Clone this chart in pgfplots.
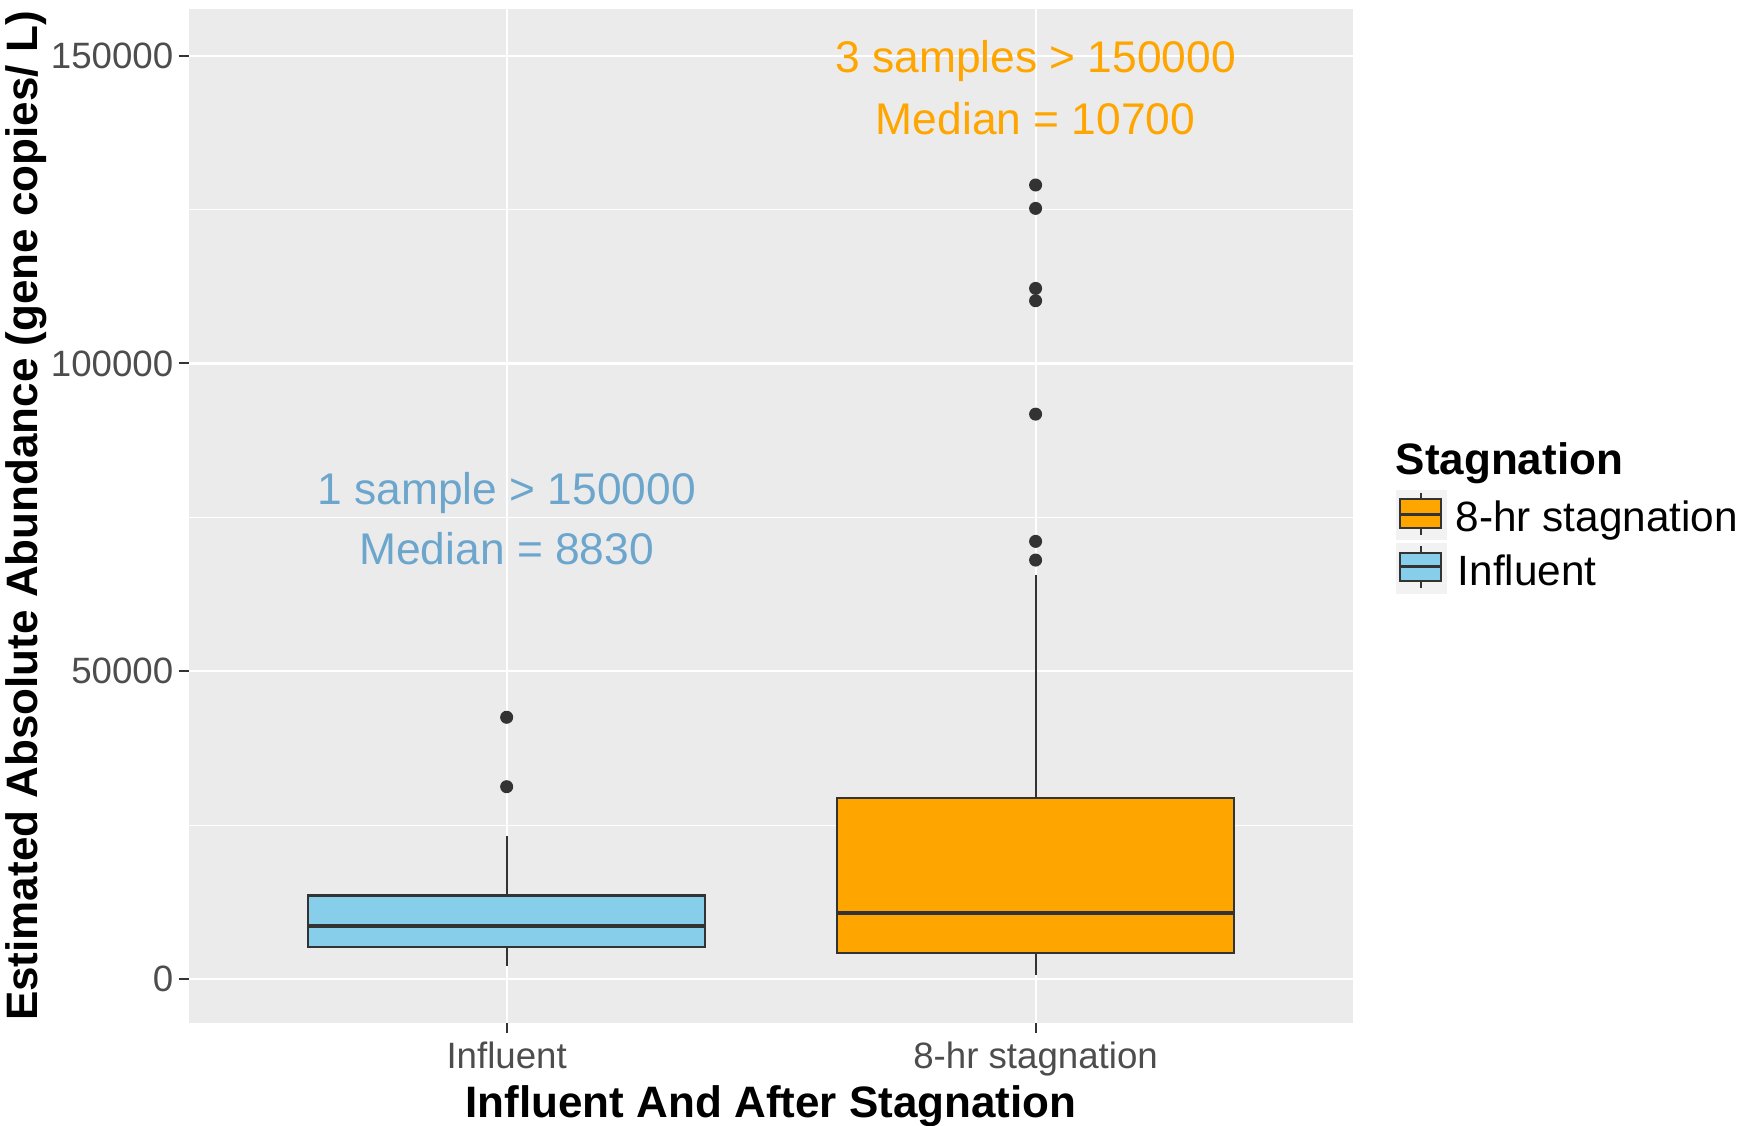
\documentclass[border=0pt]{standalone}
\usepackage{fontspec}
\setmainfont{Liberation Sans}
\usepackage{pgfplots}
\pgfplotsset{compat=1.18}

\definecolor{ggpanel}{HTML}{EBEBEB}
\definecolor{ggdark}{HTML}{333333}
\definecolor{ggtick}{HTML}{4D4D4D}
\definecolor{ggkey}{HTML}{F2F2F2}
\definecolor{skyb}{HTML}{87CEEB}
\definecolor{skytext}{HTML}{6CA6CD}
\definecolor{orng}{HTML}{FFA500}

\begin{document}
\begin{tikzpicture}
\begin{axis}[
  scale only axis,
  width=349.1pt, height=304.2pt,
  xmin=0.4, xmax=2.6,
  ymin=-7150, ymax=157600,
  axis line style={draw=none},
  axis background/.style={fill=ggpanel},
  xtick={1,2}, xticklabels={Influent, 8-hr stagnation},
  ytick={0,50000,100000,150000}, yticklabels={0,50000,100000,150000},
  minor ytick={25000,75000,125000},
  scaled y ticks=false,
  xmajorgrids, ymajorgrids, yminorgrids,
  major grid style={white, line width=0.65pt},
  minor grid style={white, line width=0.35pt},
  tick pos=left, tick align=outside,
  major tick length=3pt, minor tick length=0pt,
  tick style={ggdark, line width=0.6pt},
  ticklabel style={font=\fontsize{11}{13}\selectfont, text=ggtick},
  yticklabel style={inner sep=1.6pt},
  xticklabel style={inner sep=2.4pt},
  whisk/.style={ggdark, line width=0.6pt, forget plot},
  boxp/.style={draw=ggdark, line width=0.65pt, forget plot},
  med/.style={ggdark, line width=1.2pt, forget plot},
  outl/.style={only marks, mark=*, mark size=1.75pt, draw=ggdark, fill=ggdark, forget plot},
]
\coordinate (tl) at (rel axis cs:0,1);

% Influent: whiskers 2160-23150, box 5250-13550, median 8600
\addplot[whisk] coordinates {(1,2160) (1,5250)};
\addplot[whisk] coordinates {(1,13550) (1,23150)};
\addplot[boxp, fill=skyb] coordinates {(0.625,5250) (1.375,5250) (1.375,13550) (0.625,13550)} -- cycle;
\addplot[med] coordinates {(0.625,8600) (1.375,8600)};
\addplot[outl] coordinates {(1,31240) (1,42520)};

% 8-hr stagnation: whiskers 650-65570, box 4180-29400, median 10750
\addplot[whisk] coordinates {(2,650) (2,4180)};
\addplot[whisk] coordinates {(2,29400) (2,65570)};
\addplot[boxp, fill=orng] coordinates {(1.625,4180) (2.375,4180) (2.375,29400) (1.625,29400)} -- cycle;
\addplot[med] coordinates {(1.625,10750) (2.375,10750)};
\addplot[outl] coordinates {(2,68060) (2,71100) (2,91770) (2,110200) (2,112200) (2,125200) (2,129000)};

\node[anchor=base, text=orng, font=\fontsize{13.3}{16}\selectfont] at (axis cs:2,147200) {3 samples > 150000};
\node[anchor=base, text=orng, font=\fontsize{13.3}{16}\selectfont] at (axis cs:2,137200) {Median = 10700};
\node[anchor=base, text=skytext, font=\fontsize{13.3}{16}\selectfont] at (axis cs:1,77050) {1 sample > 150000};
\node[anchor=base, text=skytext, font=\fontsize{13.3}{16}\selectfont] at (axis cs:1,67300) {Median = 8830};
\end{axis}

\pgfresetboundingbox
\begin{scope}[shift={([shift={(-56.79pt,2.7pt)}]tl)}, x=0.3pt, y=-0.3pt]
\path[use as bounding box] (0,0) rectangle (1741,1125);

% axis titles
\node[anchor=base, inner sep=0pt, font=\bfseries\fontsize{13.2}{16}\selectfont] at (771,1117) {Influent And After Stagnation};
\node[anchor=base, rotate=90, inner sep=0pt, font=\bfseries\fontsize{13.2}{16}\selectfont] at (38,516) {Estimated Absolute Abundance (gene copies/ L)};

% legend
\node[anchor=base west, inner sep=0pt, font=\bfseries\fontsize{13.2}{16}\selectfont] at (1395,475) {Stagnation};
\fill[ggkey] (1395.7,490) rectangle (1446.7,540);
\fill[ggkey] (1395.7,543.3) rectangle (1446.7,594);
\draw[ggdark, line width=0.6pt] (1421,492.7) -- (1421,535);
\draw[ggdark, fill=orng, line width=0.6pt] (1400,499.3) rectangle (1440.7,528.3);
\draw[ggdark, line width=0.9pt] (1400,515) -- (1440.7,515);
\draw[ggdark, line width=0.6pt] (1421,546) -- (1421,588.3);
\draw[ggdark, fill=skyb, line width=0.6pt] (1400,552.7) rectangle (1440.7,581);
\draw[ggdark, line width=0.9pt] (1400,566.7) -- (1440.7,566.7);
\node[anchor=base west, inner sep=0pt, font=\fontsize{12.7}{15}\selectfont] at (1455,531.7) {8-hr stagnation};
\node[anchor=base west, inner sep=0pt, font=\fontsize{12.7}{15}\selectfont] at (1457,585.7) {Influent};
\end{scope}
\end{tikzpicture}
\end{document}
